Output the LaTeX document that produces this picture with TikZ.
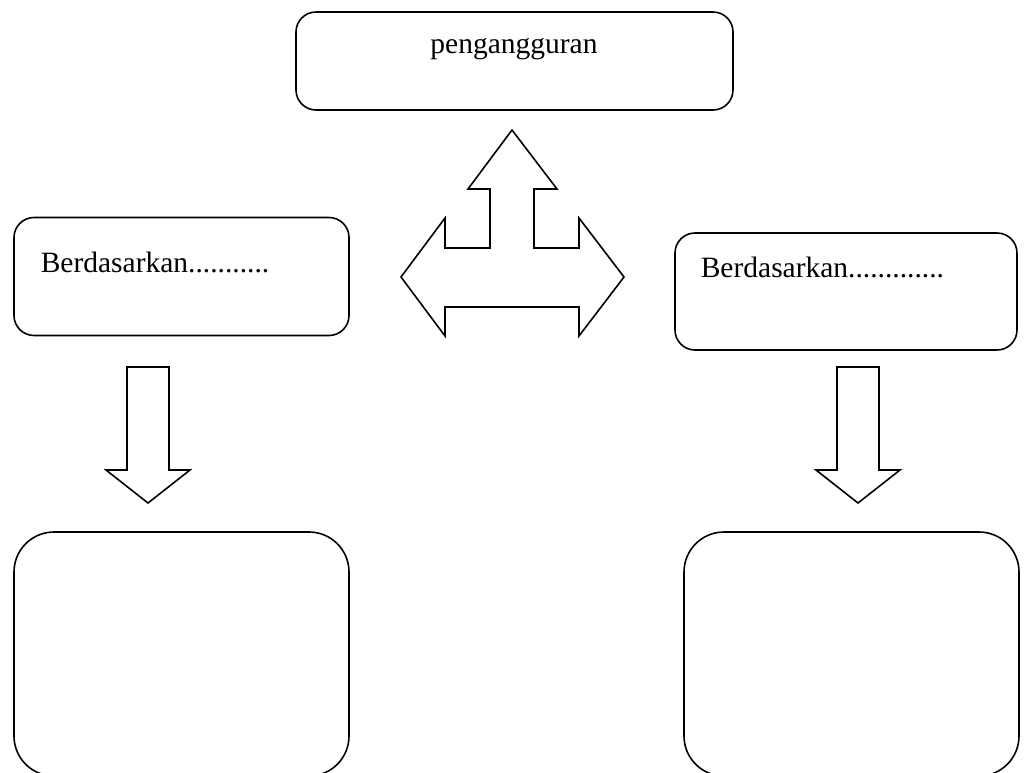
\documentclass[tikz,border=0pt]{standalone}
\usepackage{fontspec}
\setmainfont{Liberation Serif}
\begin{document}
\begin{tikzpicture}[x=1pt,y=-1pt,
  line width=1.6pt, line join=miter,
  box/.style={draw, rounded corners=20pt, inner sep=0pt},
  bigbox/.style={draw, rounded corners=40pt, inner sep=0pt},
  label/.style={inner sep=0pt, font=\fontsize{29.5}{35}\selectfont},
  blockarrow/.style={draw, fill=white}
]
\useasboundingbox (0,0) rectangle (1026,772);

% top box
\node[box, minimum width=437pt, minimum height=98pt] (top) at (514.5,61) {};
\node[label, anchor=base] (toptext) at (514,53) {pengangguran};

% left and right "Berdasarkan" boxes
\node[box, minimum width=335pt, minimum height=118pt] (lbox) at (181.5,276.5) {};
\node[label, anchor=base west] (ltext) at (40,272) {Berdasarkan...........};
\node[box, minimum width=342pt, minimum height=117pt] (rbox) at (846,291.5) {};
\node[label, anchor=base west] (rtext) at (700,277) {Berdasarkan.............};

% lower empty boxes
\node[bigbox, minimum width=335pt, minimum height=244pt] (lbottom) at (181.5,654) {};
\node[bigbox, minimum width=335pt, minimum height=244pt] (rbottom) at (851.5,654) {};

% three-way block arrow
\draw[blockarrow] (512,130) -- (557,189) -- (534,189) -- (534,248) -- (579,248)
  -- (579,218) -- (624,277) -- (579,336) -- (579,307) -- (445,307) -- (445,336)
  -- (401,277) -- (445,218) -- (445,248) -- (490,248) -- (490,189) -- (468,189)
  -- cycle;

% down block arrows
\draw[blockarrow] (127,367) -- (169,367) -- (169,470) -- (190,470) -- (148,503)
  -- (106,470) -- (127,470) -- cycle;
\draw[blockarrow] (837,367) -- (879,367) -- (879,470) -- (900,470) -- (858,503)
  -- (816,470) -- (837,470) -- cycle;
\end{tikzpicture}
\end{document}
